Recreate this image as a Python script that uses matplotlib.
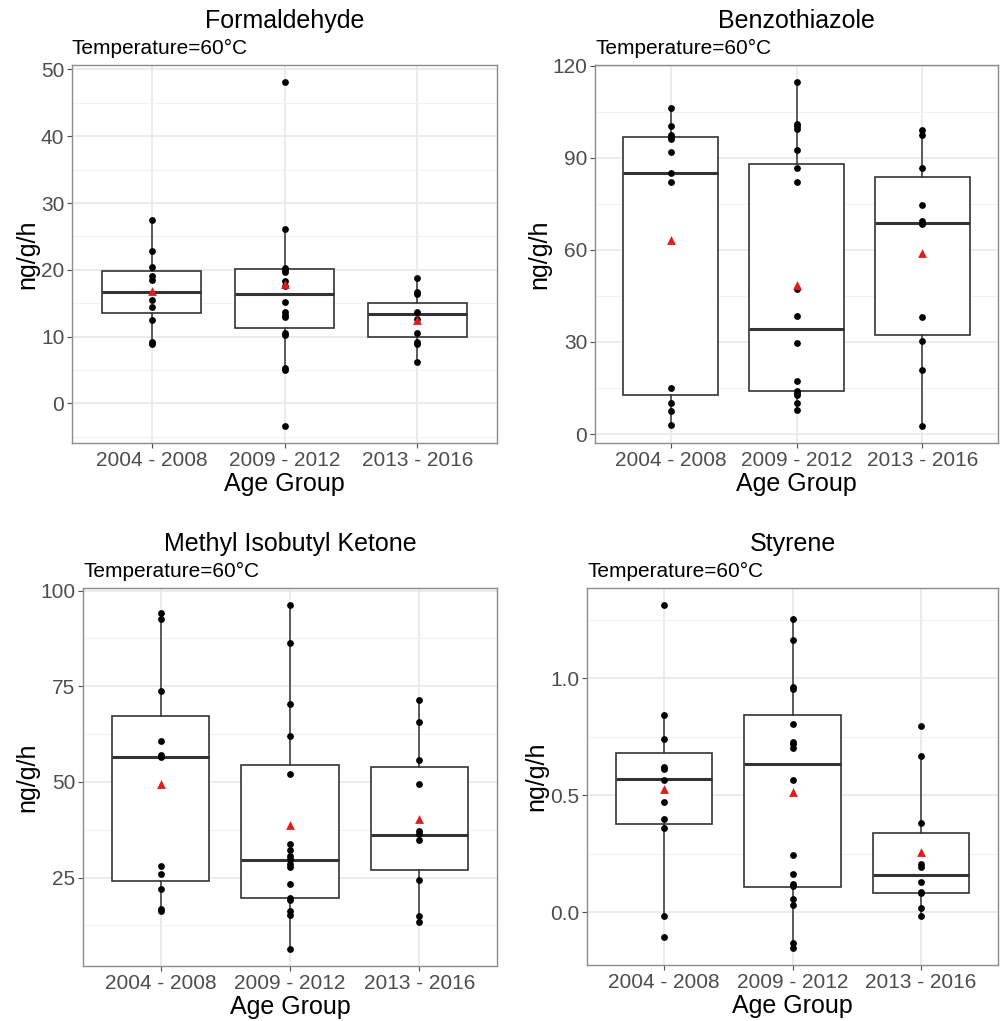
import matplotlib
matplotlib.use("Agg")
import matplotlib.pyplot as plt
from matplotlib.ticker import MultipleLocator

plt.rcParams['font.family'] = ['Liberation Sans', 'DejaVu Sans']

groups = ['2004 - 2008', '2009 - 2012', '2013 - 2016']

# Formaldehyde
form_pts = [[27.4, 22.75, 20.5, 19.1, 18.5, 15.5, 14.5, 12.5, 9.25, 8.9],
            [48.1, 26.1, 20.35, 20.0, 19.65, 18.4, 17.6, 15.2, 13.7, 13.3, 13.0, 10.5, 10.25, 5.25, 5.0, -3.35],
            [18.75, 16.65, 16.35, 13.65, 12.6, 10.5, 9.25, 8.9, 6.25]]
form_mean = [16.8, 17.9, 12.5]
form_q1 = [13.5, 11.25, 10.0]
form_med = [16.7, 16.4, 13.4]
form_q3 = [19.8, 20.1, 15.0]
form_lo = [8.9, 5.0, 6.25]
form_hi = [27.4, 26.1, 18.75]

# Benzothiazole
benz_pts = [[106.2, 100.2, 97.4, 96.7, 96.2, 92.0, 84.9, 82.2, 15.0, 10.2, 7.4, 3.0],
            [114.6, 101.1, 100.2, 99.5, 92.4, 86.5, 82.0, 47.4, 38.5, 29.6, 17.4, 14.1, 13.4, 12.8, 10.2, 7.8],
            [98.9, 97.5, 86.5, 74.5, 69.3, 68.7, 68.3, 38.0, 30.2, 20.9, 2.7]]
benz_mean = [63.3, 48.6, 58.9]
benz_q1 = [12.6, 13.9, 32.3]
benz_med = [84.9, 34.3, 68.9]
benz_q3 = [96.7, 88.0, 83.7]
benz_lo = [3.0, 7.8, 2.7]
benz_hi = [106.2, 114.6, 98.9]

# Methyl Isobutyl Ketone
mibk_pts = [[94.25, 92.7, 73.7, 60.8, 57.0, 56.5, 28.0, 25.9, 22.1, 16.7, 16.2],
            [96.2, 86.4, 70.3, 62.1, 52.2, 33.9, 32.3, 30.6, 30.0, 28.5, 27.8, 23.4, 19.7, 19.1, 16.2, 15.2, 6.4],
            [71.3, 65.7, 55.7, 49.4, 37.2, 36.5, 34.9, 24.5, 14.9, 13.4]]
mibk_mean = [49.6, 38.7, 40.3]
mibk_q1 = [24.0, 19.7, 27.1]
mibk_med = [56.4, 29.5, 36.1]
mibk_q3 = [67.2, 54.5, 53.9]
mibk_lo = [16.2, 6.4, 13.4]
mibk_hi = [94.25, 96.2, 71.3]

# Styrene
styr_pts = [[1.314, 0.845, 0.742, 0.622, 0.611, 0.565, 0.472, 0.399, 0.358, -0.017, -0.108],
            [1.254, 1.164, 0.964, 0.957, 0.805, 0.730, 0.719, 0.703, 0.565, 0.245, 0.163, 0.120, 0.111, 0.058, 0.030, -0.134, -0.153],
            [0.797, 0.669, 0.382, 0.208, 0.191, 0.130, 0.087, 0.080, 0.019, -0.016]]
styr_mean = [0.529, 0.514, 0.257]
styr_q1 = [0.379, 0.106, 0.083]
styr_med = [0.568, 0.636, 0.160]
styr_q3 = [0.682, 0.843, 0.340]
styr_lo = [-0.017, -0.153, -0.016]
styr_hi = [0.845, 1.254, 0.669]

panels = [
    ('Formaldehyde', form_pts, form_mean, form_q1, form_med, form_q3, form_lo, form_hi, 10, 5, None),
    ('Benzothiazole', benz_pts, benz_mean, benz_q1, benz_med, benz_q3, benz_lo, benz_hi, 30, 15, None),
    ('Methyl Isobutyl Ketone', mibk_pts, mibk_mean, mibk_q1, mibk_med, mibk_q3, mibk_lo, mibk_hi, 25, 12.5, None),
    ('Styrene', styr_pts, styr_mean, styr_q1, styr_med, styr_q3, styr_lo, styr_hi, 0.5, 0.25, '%.1f'),
]

W, H = 1002, 1021
fig = plt.figure(figsize=(W / 100, H / 100), dpi=100)

# axes boxes in pixels: left, top, right, bottom
rects = [(72, 65, 497, 443), (595, 65, 998, 443), (83, 588, 497, 966), (587, 588, 998, 965)]

for (name, pts, mean, q1, med, q3, lo, hi, major, minor, fmt), (l, t, r, b) in zip(panels, rects):
    ax = fig.add_axes([l / W, 1 - b / H, (r - l) / W, (b - t) / H])
    xs = range(len(groups))
    stats = [dict(med=med[i], q1=q1[i], q3=q3[i], whislo=lo[i], whishi=hi[i], fliers=[]) for i in xs]
    ax.bxp(stats, positions=list(xs), widths=0.75, showcaps=False, patch_artist=True,
           boxprops=dict(facecolor='white', edgecolor='#333333', linewidth=1.2),
           whiskerprops=dict(color='#333333', linewidth=1.1),
           medianprops=dict(color='#333333', linewidth=2.2), zorder=2)
    for i in xs:
        ax.scatter([i] * len(pts[i]), pts[i], s=24, color='black', zorder=3, linewidths=0)
    ax.scatter(list(xs), mean, marker='^', s=40, color='#E41A1C', zorder=4, linewidths=0)

    allv = [v for p in pts for v in p]
    lo_v, hi_v = min(allv), max(allv)
    pad = (hi_v - lo_v) * 0.05
    ax.set_ylim(lo_v - pad, hi_v + pad)
    ax.set_xlim(-0.6, 2.6)
    ax.yaxis.set_major_locator(MultipleLocator(major))
    ax.yaxis.set_minor_locator(MultipleLocator(minor))
    if fmt:
        ax.yaxis.set_major_formatter(plt.FormatStrFormatter(fmt))
    ax.set_xticks(list(xs))
    ax.set_xticklabels(groups)
    ax.grid(True, which='major', color='#E6E6E6', linewidth=1.1, zorder=0)
    ax.grid(True, which='minor', axis='y', color='#F2F2F2', linewidth=0.8, zorder=0)
    ax.set_axisbelow(True)
    ax.tick_params(axis='both', which='major', labelsize=15, labelcolor='#4D4D4D',
                   color='#4D4D4D', length=3.5, width=0.8, pad=2)
    ax.tick_params(axis='y', which='minor', length=0)
    for s in ax.spines.values():
        s.set_color('#8C8C8C')
        s.set_linewidth(1.0)
    ax.set_xlabel('Age Group', fontsize=18, labelpad=2)
    ax.set_ylabel('ng/g/h', fontsize=18, labelpad=1)
    ax.annotate(name, xy=(0.5, 1), xycoords='axes fraction', xytext=(0, 44 * 0.72),
                textcoords='offset points', ha='center', va='center', fontsize=18)
    ax.annotate('Temperature=60°C', xy=(0, 1), xycoords='axes fraction', xytext=(0, 17 * 0.72),
                textcoords='offset points', ha='left', va='center', fontsize=15)

fig.savefig('out.png', dpi=100)
